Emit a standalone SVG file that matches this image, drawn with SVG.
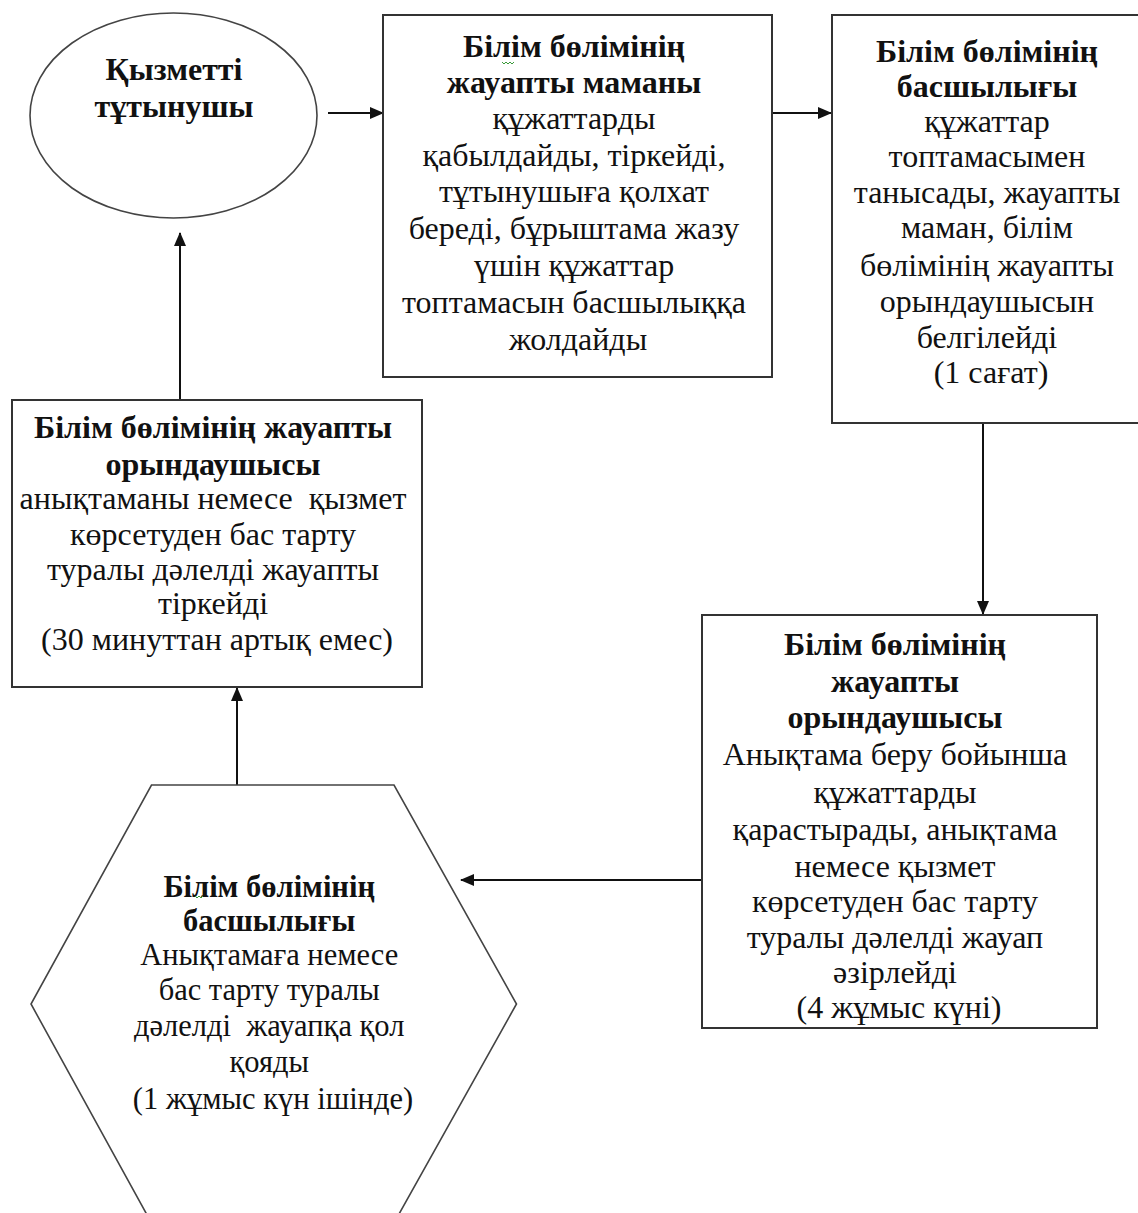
<svg xmlns="http://www.w3.org/2000/svg" width="1138" height="1213" viewBox="0 0 1138 1213">
<style>
.box{fill:#fff;stroke:#333;stroke-width:2}
.shape{fill:#fff;stroke:#444;stroke-width:1.6}
.t{font-family:"Liberation Serif","Times New Roman",serif;font-size:32px;fill:#111;text-anchor:middle}
.h{font-size:30.5px}
.b{font-weight:bold}
.conn{stroke:#111;stroke-width:2;fill:none;marker-end:url(#ah)}
.sq{stroke:#3a9a3a;stroke-width:1;fill:none}
</style>
<defs>
<marker id="ah" markerUnits="userSpaceOnUse" markerWidth="14" markerHeight="12" refX="13" refY="6" orient="auto" viewBox="0 0 14 12">
<path d="M0,0 L14,6 L0,12 z" fill="#111"/>
</marker>
</defs>
<rect width="1138" height="1213" fill="#fff"/>

<g id="connectors">
<line class="conn" x1="328" y1="113" x2="383" y2="113"/>
<line class="conn" x1="758" y1="113" x2="831" y2="113"/>
<line class="conn" x1="983" y1="423" x2="983" y2="614"/>
<line class="conn" x1="702" y1="880" x2="461" y2="880"/>
<line class="conn" x1="237" y1="785" x2="237" y2="688"/>
<line class="conn" x1="180" y1="400" x2="180" y2="233"/>
</g>

<g id="node-consumer">
<ellipse class="shape" cx="173.5" cy="115.5" rx="143.5" ry="102.5"/>
<text class="t b" x="174" y="80">Қызметті</text>
<text class="t b" x="174" y="117">тұтынушы</text>
</g>

<g id="node-specialist">
<rect class="box" x="383" y="15" width="389" height="362"/>
<text class="t" x="578">
<tspan class="b" x="578" y="57">Білім бөлімінің</tspan>
<tspan class="b" x="578" y="93">жауапты маманы</tspan>
<tspan x="578" y="129">құжаттарды</tspan>
<tspan x="578" y="166">қабылдайды, тіркейді,</tspan>
<tspan x="578" y="202">тұтынушыға қолхат</tspan>
<tspan x="578" y="239">береді, бұрыштама жазу</tspan>
<tspan x="578" y="276">үшін құжаттар</tspan>
<tspan x="578" y="313">топтамасын басшылыққа</tspan>
<tspan x="578" y="350">жолдайды</tspan>
</text>
<path class="sq" d="M502,62 l2,2 l2,-2 l2,2 l2,-2 l2,2 l2,-2"/>
</g>

<g id="node-head1">
<rect class="box" x="832" y="15" width="320" height="408"/>
<text class="t" x="991">
<tspan class="b" x="991" y="62">Білім бөлімінің</tspan>
<tspan class="b" x="991" y="97">басшылығы</tspan>
<tspan x="991" y="132">құжаттар</tspan>
<tspan x="991" y="167">топтамасымен</tspan>
<tspan x="991" y="203">танысады, жауапты</tspan>
<tspan x="991" y="238">маман, білім</tspan>
<tspan x="991" y="276">бөлімінің жауапты</tspan>
<tspan x="991" y="312">орындаушысын</tspan>
<tspan x="991" y="348">белгілейді</tspan>
<tspan x="991" y="383">(1 сағат)</tspan>
</text>
</g>

<g id="node-executor2">
<rect class="box" x="702" y="615" width="395" height="413"/>
<text class="t" x="899">
<tspan class="b" x="899" y="655">Білім бөлімінің</tspan>
<tspan class="b" x="899" y="692">жауапты</tspan>
<tspan class="b" x="899" y="728">орындаушысы</tspan>
<tspan x="899" y="765">Анықтама беру бойынша</tspan>
<tspan x="899" y="803">құжаттарды</tspan>
<tspan x="899" y="840">қарастырады, анықтама</tspan>
<tspan x="899" y="877">немесе қызмет</tspan>
<tspan x="899" y="912">көрсетуден бас тарту</tspan>
<tspan x="899" y="948">туралы дәлелді жауап</tspan>
<tspan x="899" y="983">әзірлейді</tspan>
<tspan x="899" y="1018">(4 жұмыс күні)</tspan>
</text>
</g>

<g id="node-head2">
<polygon class="shape" points="151.5,785 394,785 516.5,1004 394,1223 151.5,1223 31,1004"/>
<text class="t h" x="273">
<tspan class="b" x="273" y="897">Білім бөлімінің</tspan>
<tspan class="b" x="273" y="931">басшылығы</tspan>
<tspan x="273" y="965">Анықтамаға немесе</tspan>
<tspan x="273" y="1000">бас тарту туралы</tspan>
<tspan x="273" y="1036" xml:space="preserve">дәлелді  жауапқа қол</tspan>
<tspan x="273" y="1072">қояды</tspan>
<tspan x="273" y="1109">(1 жұмыс күн ішінде)</tspan>
</text>
<path class="sq" d="M195,896 l2,2 l2,-2 l2,2 l2,-2"/>
</g>

<g id="node-executor1">
<rect class="box" x="12" y="400" width="410" height="287"/>
<text class="t" x="217">
<tspan class="b" x="217" y="438">Білім бөлімінің жауапты</tspan>
<tspan class="b" x="217" y="475">орындаушысы</tspan>
<tspan x="217" y="509" xml:space="preserve">анықтаманы немесе  қызмет</tspan>
<tspan x="217" y="545">көрсетуден бас тарту</tspan>
<tspan x="217" y="580">туралы дәлелді жауапты</tspan>
<tspan x="217" y="614">тіркейді</tspan>
<tspan x="217" y="650">(30 минуттан артық емес)</tspan>
</text>
</g>
</svg>
